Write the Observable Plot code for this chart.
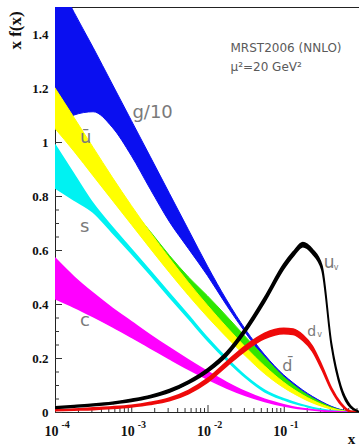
<!DOCTYPE html>
<html><head><meta charset="utf-8">
<script src="https://cdn.jsdelivr.net/npm/d3@7"></script>
<script src="https://cdn.jsdelivr.net/npm/@observablehq/plot@0.6"></script>
<style>html,body{margin:0;padding:0;background:#fff;overflow:hidden}</style>
</head><body><div id="chart"></div>
<script>
// x grid (momentum fraction), quarter-decade steps then eighth-decade steps
const xs = [1e-4, 1.78e-4, 3.16e-4, 5.62e-4, 1e-3, 1.78e-3, 3.16e-3, 5.62e-3, 0.01, 0.0178, 0.0316, 0.0562, 0.1, 0.133, 0.178, 0.237, 0.316, 0.422, 0.562, 0.75, 1];
// g/10 band
const gLo = [1.06, 1.10, 1.112, 1.055, 0.95, 0.825, 0.705, 0.605, 0.505, 0.395, 0.293, 0.20, 0.127, 0.099, 0.073, 0.051, 0.032, 0.017, 0.007, 0.001, 0];
const gHi = [1.62, 1.48, 1.35, 1.215, 1.08, 0.945, 0.81, 0.675, 0.54, 0.415, 0.305, 0.212, 0.137, 0.108, 0.081, 0.058, 0.038, 0.021, 0.009, 0.002, 0];
// ubar band
const ubLo = [1.05, 0.965, 0.875, 0.785, 0.695, 0.605, 0.517, 0.432, 0.352, 0.277, 0.207, 0.142, 0.09, 0.069, 0.05, 0.034, 0.021, 0.011, 0.004, 0.0005, 0];
const ubHi = [1.20, 1.09, 0.98, 0.87, 0.765, 0.665, 0.57, 0.48, 0.395, 0.315, 0.24, 0.17, 0.11, 0.085, 0.063, 0.044, 0.028, 0.015, 0.006, 0.001, 0];
// dbar band
const dbLo = [1.06, 0.97, 0.88, 0.79, 0.70, 0.61, 0.522, 0.437, 0.357, 0.282, 0.212, 0.147, 0.095, 0.073, 0.054, 0.037, 0.023, 0.012, 0.0045, 0.0007, 0];
const dbHi = [1.19, 1.08, 0.97, 0.86, 0.755, 0.668, 0.58, 0.50, 0.43, 0.355, 0.278, 0.203, 0.13, 0.101, 0.075, 0.053, 0.034, 0.018, 0.0075, 0.0015, 0];
// s band
const sLo = [0.83, 0.785, 0.74, 0.665, 0.588, 0.508, 0.426, 0.346, 0.265, 0.192, 0.127, 0.075, 0.045, 0.033, 0.024, 0.015, 0.008, 0.003, 0.0008, 0, 0];
const sHi = [0.99, 0.88, 0.772, 0.685, 0.604, 0.522, 0.44, 0.358, 0.275, 0.2, 0.133, 0.081, 0.049, 0.037, 0.026, 0.017, 0.01, 0.005, 0.0016, 0.0003, 0];
// c band
const cLo = [0.42, 0.388, 0.353, 0.316, 0.277, 0.237, 0.197, 0.158, 0.122, 0.089, 0.061, 0.039, 0.022, 0.016, 0.011, 0.007, 0.004, 0.002, 0.0008, 0.0002, 0];
const cHi = [0.57, 0.50, 0.44, 0.385, 0.335, 0.285, 0.238, 0.193, 0.15, 0.11, 0.075, 0.047, 0.027, 0.019, 0.013, 0.0085, 0.005, 0.0025, 0.001, 0.0002, 0];
// u valence band
const uvLo = [0.013, 0.018, 0.023, 0.030, 0.039, 0.053, 0.073, 0.105, 0.148, 0.208, 0.297, 0.407, 0.53, 0.577, 0.612, 0.587, 0.527, 0.244, 0.085, 0.017, 0];
const uvHi = [0.019, 0.024, 0.029, 0.036, 0.047, 0.061, 0.083, 0.115, 0.160, 0.222, 0.313, 0.425, 0.548, 0.593, 0.628, 0.603, 0.543, 0.256, 0.095, 0.023, 0];
// d valence band
const dvLo = [0.005, 0.007, 0.009, 0.013, 0.019, 0.028, 0.042, 0.068, 0.11, 0.17, 0.228, 0.272, 0.29, 0.287, 0.265, 0.226, 0.158, 0.081, 0.027, 0.001, 0];
const dvHi = [0.009, 0.011, 0.015, 0.019, 0.025, 0.036, 0.052, 0.08, 0.124, 0.186, 0.246, 0.292, 0.31, 0.307, 0.285, 0.244, 0.172, 0.089, 0.033, 0.003, 0];

// axis ticks and labels
const yMajor = [0, 0.2, 0.4, 0.6, 0.8, 1, 1.2, 1.4];
const yMinor = [0.05, 0.1, 0.15, 0.25, 0.3, 0.35, 0.45, 0.5, 0.55, 0.65, 0.7, 0.75, 0.85, 0.9, 0.95, 1.05, 1.1, 1.15, 1.25, 1.3, 1.35, 1.45];
const xMajor = [1e-4, 1e-3, 1e-2, 1e-1];
const xExponents = ["-4", "-3", "-2", "-1"];
const xMinor = [];
for (const dec of xMajor) for (let m = 2; m <= 9; m++) xMinor.push(m * dec);

// curve labels
const curveLabels = ["g/10", "\u016B", "s", "c", "u", "d", "d\u0304"];
const labelX = [1.02e-3, 2.1e-4, 2.1e-4, 2.1e-4, 0.33, 0.2, 0.094];
const labelY = [1.09, 1.0, 0.67, 0.322, 0.537, 0.285, 0.155];
const subText = ["", "", "", "", "v", "v", ""];

const rows = xs.map((x, i) => ({x, gLo: gLo[i], gHi: gHi[i], ubLo: ubLo[i], ubHi: ubHi[i], dbLo: dbLo[i], dbHi: dbHi[i],
  sLo: sLo[i], sHi: sHi[i], cLo: cLo[i], cHi: cHi[i], uvLo: uvLo[i], uvHi: uvHi[i], dvLo: dvLo[i], dvHi: dvHi[i]}));

const band = (lo, hi, color, sw) => Plot.areaY(rows, {x: "x", y1: lo, y2: hi, fill: color, stroke: color, strokeWidth: sw, curve: "monotone-x", clip: true});

const serif = "Liberation Serif, Times New Roman, serif";
const sans = "DejaVu Sans, sans-serif";
const lab = (idx, size, extra = {}) => Plot.text(idx, {x: i => labelX[i], y: i => labelY[i], text: i => curveLabels[i],
  textAnchor: "start", lineAnchor: "bottom", fontFamily: sans, fontSize: size, fill: "#7a7a7a", ...extra});

const chart = Plot.plot({
  width: 359, height: 447,
  marginLeft: 55, marginRight: 0, marginTop: 7, marginBottom: 35,
  x: {type: "log", domain: [1e-4, 1], range: [55, 360]},
  y: {domain: [0, 1.5]},
  style: {background: "white", overflow: "hidden"},
  marks: [
    Plot.frame({stroke: "#222", strokeWidth: 1}),
    Plot.axisY(yMajor, {tickSize: -7, tickPadding: 14, tickFormat: d => String(d), label: null,
      fontFamily: serif, fontWeight: "bold", fontSize: 13, fill: "#111", stroke: "#333"}),
    Plot.axisY(yMinor, {tickSize: -4, tickFormat: () => "", label: null, stroke: "#333"}),
    Plot.axisX(xMajor, {tickSize: -7, tickFormat: () => "", label: null, stroke: "#333"}),
    Plot.axisX(xMinor, {tickSize: -4, tickFormat: () => "", label: null, stroke: "#333"}),
    Plot.text(xMajor, {x: d => d, frameAnchor: "bottom", text: () => "10", textAnchor: "end", lineAnchor: "bottom",
      dx: 3, dy: 23, fontFamily: serif, fontWeight: "bold", fontSize: 14, fill: "#111"}),
    Plot.text(xMajor, {x: d => d, frameAnchor: "bottom", text: (d, i) => xExponents[i], textAnchor: "start", lineAnchor: "bottom",
      dx: 6, dy: 15, fontFamily: serif, fontWeight: "bold", fontSize: 10, fill: "#111"}),
    band("gLo", "gHi", "#0a0ff0", 1),
    band("dbLo", "dbHi", "#2ee600", 1),
    band("ubLo", "ubHi", "#ffff00", 1),
    band("sLo", "sHi", "#00f2f2", 1.5),
    band("cLo", "cHi", "#ff00ff", 1.5),
    band("dvLo", "dvHi", "#ee0a0a", 1.7),
    band("uvLo", "uvHi", "#000000", 1.6),
    lab([0, 1, 2, 3], 18),
    lab([4], 17),
    lab([5], 14),
    lab([6], 16),
    Plot.text([4], {x: i => labelX[i], y: i => labelY[i], text: i => subText[i], textAnchor: "start", lineAnchor: "bottom",
      dx: 10, dy: 2, fontFamily: sans, fontSize: 8, fill: "#7a7a7a"}),
    Plot.text([5], {x: i => labelX[i], y: i => labelY[i], text: i => subText[i], textAnchor: "start", lineAnchor: "bottom",
      dx: 10, dy: 1, fontFamily: sans, fontSize: 8, fill: "#7a7a7a"}),
    Plot.text(["MRST2006 (NNLO)"], {text: d => d, frameAnchor: "top-left", dx: 175, dy: 44, textAnchor: "start", lineAnchor: "bottom",
      fontFamily: sans, fontSize: 12, fill: "#5a5a5a"}),
    Plot.text(["\u03BC\u00B2=20 GeV\u00B2"], {text: d => d, frameAnchor: "top-left", dx: 175, dy: 63, textAnchor: "start", lineAnchor: "bottom",
      fontFamily: sans, fontSize: 12, fill: "#5a5a5a"}),
    Plot.text(["x f(x)"], {text: d => d, frameAnchor: "top-left", dx: -40, dy: 23, rotate: -90, textAnchor: "middle", lineAnchor: "middle",
      fontFamily: serif, fontWeight: "bold", fontSize: 17, fill: "#111"}),
    Plot.text(["x"], {text: d => d, frameAnchor: "bottom-right", dx: -8, dy: 27, textAnchor: "middle", lineAnchor: "middle",
      fontFamily: serif, fontWeight: "bold", fontSize: 15, fill: "#111"})
  ]
});
document.getElementById("chart").appendChild(chart);
</script>
</body></html>
